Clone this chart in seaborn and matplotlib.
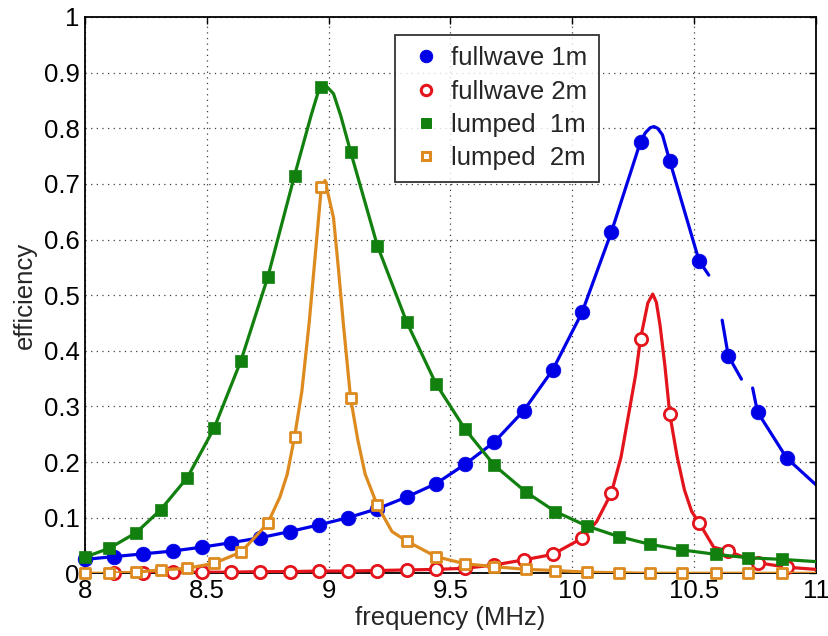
import numpy as np
import pandas as pd
import matplotlib
matplotlib.use("Agg")
import matplotlib.pyplot as plt
from matplotlib.lines import Line2D
import seaborn as sns

# ---------------------------------------------------------
# data
# ---------------------------------------------------------
# fullwave simulations (0.12 MHz step)
fw1_x = [8.00, 8.12, 8.24, 8.36, 8.48, 8.60, 8.72, 8.84, 8.96, 9.08, 9.20, 9.32, 9.44,
         9.56, 9.68, 9.80, 9.92, 10.04, 10.16, 10.28, 10.40, 10.52, 10.64, 10.76, 10.88]
fw1_y = [0.025, 0.030, 0.035, 0.040, 0.047, 0.055, 0.064, 0.075, 0.087, 0.100, 0.116, 0.137, 0.161,
         0.196, 0.236, 0.292, 0.366, 0.469, 0.613, 0.776, 0.741, 0.562, 0.391, 0.290, 0.207]
fw2_x = [8.12, 8.24, 8.36, 8.48, 8.60, 8.72, 8.84, 8.96, 9.08, 9.20, 9.32, 9.44,
         9.56, 9.68, 9.80, 9.92, 10.04, 10.16, 10.28, 10.40, 10.52, 10.64, 10.76, 10.88]
fw2_y = [0.001, 0.001, 0.002, 0.002, 0.002, 0.003, 0.003, 0.004, 0.004, 0.005, 0.006, 0.007,
         0.009, 0.015, 0.024, 0.034, 0.063, 0.144, 0.422, 0.286, 0.091, 0.040, 0.019, 0.011]

# lumped model
lp_x = [8.00, 8.10, 8.21, 8.31, 8.42, 8.53, 8.64, 8.75, 8.86, 8.97, 9.09, 9.20, 9.32,
        9.44, 9.56, 9.68, 9.81, 9.93, 10.06, 10.19, 10.32, 10.45, 10.59, 10.72, 10.86]
lp1_y = [0.029, 0.045, 0.073, 0.114, 0.172, 0.261, 0.382, 0.532, 0.715, 0.874, 0.758, 0.589, 0.452,
         0.341, 0.259, 0.194, 0.146, 0.111, 0.085, 0.066, 0.052, 0.042, 0.034, 0.028, 0.025]
lp2_y = [0.000, 0.000, 0.002, 0.006, 0.009, 0.018, 0.038, 0.090, 0.245, 0.694, 0.315, 0.122, 0.058,
         0.030, 0.017, 0.012, 0.007, 0.005, 0.002, 0.001, 0.000, 0.000, 0.000, 0.000, 0.000]

# extra trace points of the continuous curves (peaks, ends, gap edges)
fw1_trace_x = [10.30, 10.32, 10.335, 10.35, 10.37, 10.56, 10.615, 10.694, 10.74, 11.0]
fw1_trace_y = [0.792, 0.801, 0.803, 0.800, 0.788, 0.536, 0.455, 0.349, 0.333, 0.159]
fw1_gaps = [10.59, 10.72]  # the fullwave 1m curve is broken here
fw2_trace_x = [10.10, 10.20, 10.26, 10.31, 10.33, 10.345, 10.36, 10.38, 10.43, 10.46,
               10.49, 10.58, 11.0]
fw2_trace_y = [0.093, 0.209, 0.357, 0.486, 0.502, 0.487, 0.446, 0.373, 0.210, 0.150,
               0.111, 0.047, 0.007]
lp1_trace_x = [8.93, 8.955, 8.99, 9.02, 9.05, 11.0]
lp1_trace_y = [0.826, 0.862, 0.876, 0.862, 0.822, 0.021]
lp2_trace_x = [8.70, 8.80, 8.83, 8.89, 8.92, 8.95, 8.985, 9.02, 9.04, 9.06, 9.12, 9.15,
               9.26, 11.0]
lp2_trace_y = [0.066, 0.137, 0.178, 0.327, 0.450, 0.596, 0.706, 0.639, 0.548, 0.450, 0.239, 0.178,
               0.075, 0.000]

labels = ['fullwave 1m', 'fullwave 2m', 'lumped  1m', 'lumped  2m']
colors = ['#0000e6', '#e3141b', '#12800f', '#dd8a1e']


def curve(px, py, tx, ty, gaps=()):
    df = pd.DataFrame({'x': list(px) + list(tx), 'y': list(py) + list(ty)})
    df = df.sort_values('x').reset_index(drop=True)
    df['seg'] = np.digitize(df['x'], gaps)
    return df


series = [
    (fw1_x, fw1_y, curve(fw1_x, fw1_y, fw1_trace_x, fw1_trace_y, fw1_gaps)),
    (fw2_x, fw2_y, curve(fw2_x, fw2_y, fw2_trace_x, fw2_trace_y)),
    (lp_x, lp1_y, curve(lp_x, lp1_y, lp1_trace_x, lp1_trace_y)),
    (lp_x, lp2_y, curve(lp_x, lp2_y, lp2_trace_x, lp2_trace_y)),
]

# marker style per series: (marker, size, face, edge width)
mstyle = [('o', 112, 'full', 0.5), ('o', 78, 'white', 2.0), ('s', 82, 'full', 0.5), ('s', 54, 'white', 2.0)]

# ---------------------------------------------------------
# plot
# ---------------------------------------------------------
sns.set_style("white")
plt.rcParams['font.family'] = ['Liberation Sans', 'DejaVu Sans']

fig = plt.figure(figsize=(8.29, 6.36), dpi=100)
ax = fig.add_axes([0.1025, 0.0986, 0.8818, 0.8747])

for i, (mx, my, df) in enumerate(series):
    c = colors[i]
    sns.lineplot(data=df, x='x', y='y', units='seg', estimator=None, sort=False,
                 color=c, lw=2.3, ax=ax, zorder=2 + 2 * i, legend=False)
    m, s, face, ew = mstyle[i]
    sns.scatterplot(x=mx, y=my, marker=m, s=s, color=c if face == 'full' else 'white',
                    edgecolor=c, linewidth=ew, ax=ax, zorder=3 + 2 * i, clip_on=False,
                    legend=False)

ax.set_xlim(8, 11)
ax.set_ylim(0, 1)
ax.set_xticks([8, 8.5, 9, 9.5, 10, 10.5, 11])
ax.set_xticklabels(['8', '8.5', '9', '9.5', '10', '10.5', '11'])
ax.set_yticks(np.arange(0, 1.01, 0.1))
ax.set_yticklabels(['0', '0.1', '0.2', '0.3', '0.4', '0.5', '0.6', '0.7', '0.8', '0.9', '1'])
ax.tick_params(direction='in', length=5, width=1, top=True, right=True,
               labelsize=18.5, pad=4, colors='black')
ax.grid(True, color='0.25', linestyle=(0, (1, 3.5)), linewidth=0.9)
for sp in ax.spines.values():
    sp.set_visible(True)
    sp.set_color('black')
    sp.set_linewidth(1.3)

ax.set_xlabel('frequency (MHz)', fontsize=18.5, labelpad=2)
ax.set_ylabel('efficiency', fontsize=18.5, labelpad=5)

handles = []
for i in range(4):
    m, s, face, ew = mstyle[i]
    handles.append(Line2D([], [], linestyle='', marker=m, markersize=np.sqrt(s) * (0.85 if m == 'o' else 0.75),
                          markerfacecolor=colors[i] if face == 'full' else 'white',
                          markeredgecolor=colors[i], markeredgewidth=ew + 0.2))
leg = ax.legend(handles, labels, loc='upper left', bbox_to_anchor=(0.424, 0.968),
                borderaxespad=0, fontsize=18.5, frameon=True, fancybox=False,
                handlelength=1.5, handletextpad=0.25, labelspacing=0.36, borderpad=0.45)
leg.get_frame().set_edgecolor('black')
leg.get_frame().set_linewidth(1.3)
leg.set_zorder(20)

plt.savefig("out.png", dpi=100)
